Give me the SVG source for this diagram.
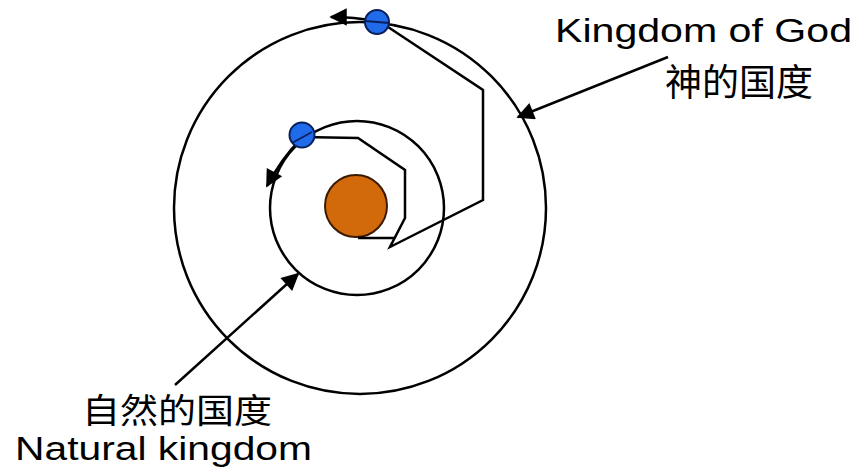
<svg xmlns="http://www.w3.org/2000/svg" width="856" height="469" viewBox="0 0 856 469">
<style>
.ln{fill:none;stroke:#000;stroke-width:2.5;stroke-linejoin:miter}
.orb{fill:none;stroke:#000;stroke-width:2.5}
.en{font-family:"Liberation Sans",Arial,sans-serif;font-size:34px;fill:#000}
.cn{font-family:"Noto Sans CJK SC","Noto Sans CJK TC",sans-serif;fill:#000}
.planet{fill:#1F6BEA;stroke:#0A1E5A;stroke-width:2}
</style>
<defs>
<marker id="ah" viewBox="0 0 10 10" refX="9" refY="5" markerWidth="8" markerHeight="7" orient="auto" markerUnits="strokeWidth">
<path d="M0,0 L10,5 L0,10 z" fill="#000"/>
</marker>
</defs>
<rect width="856" height="469" fill="#fff"/>
<g id="outer-orbit"><circle class="orb" cx="360" cy="208" r="186"/></g>
<g id="inner-orbit"><circle class="orb" cx="357" cy="208" r="87"/></g>
<g id="sun"><circle cx="356" cy="206" r="31" fill="#D2690A" stroke="#3A1A00" stroke-width="2"/></g>
<g id="connectors">
<polyline class="ln" points="302,137 358,138 405,170 405,218 390,247 483,200 483,90 388,27"/>
<line class="ln" x1="358" y1="238" x2="395" y2="238"/>
<path class="ln" d="M374,21 Q355,17 331,17" marker-end="url(#ah)"/>
<path class="ln" d="M300,140 Q282,158 267,186" marker-end="url(#ah)"/>
<line class="ln" x1="668" y1="57" x2="518" y2="117" marker-end="url(#ah)"/>
<line class="ln" x1="175" y1="385" x2="298" y2="274" marker-end="url(#ah)"/>
</g>
<g id="planet-god"><circle class="planet" cx="377" cy="22" r="12"/><line x1="365" y1="21" x2="389" y2="23" stroke="#0A1E5A" stroke-width="2"/></g>
<g id="planet-natural"><circle class="planet" cx="302" cy="135" r="12.5"/><line x1="292" y1="143" x2="312" y2="132" stroke="#0A1E5A" stroke-width="1.5"/></g>
<g id="label-god">
<text class="en" x="555" y="42" textLength="297" lengthAdjust="spacingAndGlyphs">Kingdom of God</text>
<text class="cn" x="665" y="96" font-size="37" textLength="148" lengthAdjust="spacingAndGlyphs">神的国度</text>
</g>
<g id="label-natural">
<text class="cn" x="82" y="423" font-size="34" textLength="190" lengthAdjust="spacingAndGlyphs">自然的国度</text>
<text class="en" x="15" y="460" font-size="33" textLength="297" lengthAdjust="spacingAndGlyphs">Natural kingdom</text>
</g>
</svg>
